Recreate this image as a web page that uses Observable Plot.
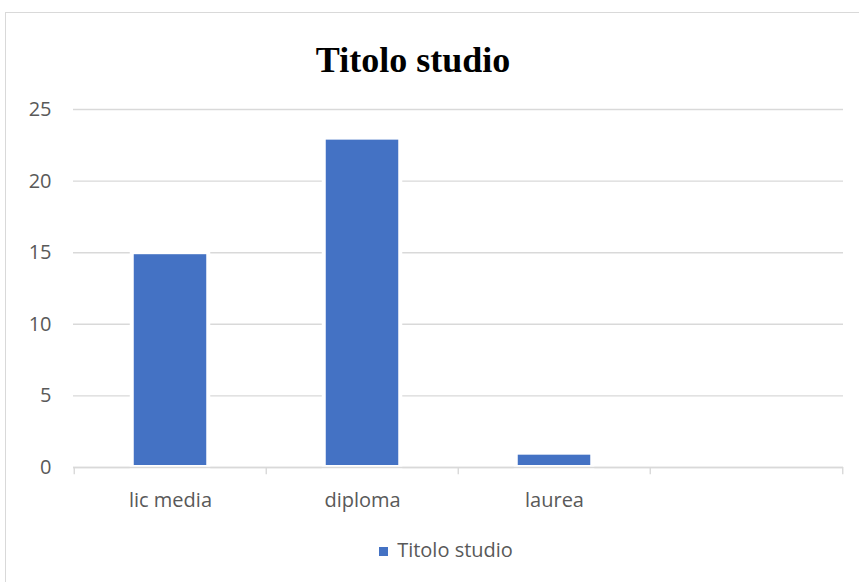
<!DOCTYPE html>
<html>
<head>
<meta charset="utf-8">
<script src="https://cdn.jsdelivr.net/npm/d3@7"></script>
<script src="https://cdn.jsdelivr.net/npm/@observablehq/plot@0.6"></script>
<style>
  html, body { margin: 0; padding: 0; background: #fff; overflow: hidden; }
  body { width: 859px; height: 582px; position: relative; }
  #frame { position: absolute; left: 5px; top: 12px; width: 900px; height: 600px;
    border-left: 1.5px solid #d9d9d9; border-top: 1.5px solid #d9d9d9; }
  #title { position: absolute; left: 0; top: 42px; width: 826px; text-align: center;
    font-family: "Liberation Serif", "Times New Roman", serif; font-weight: bold;
    font-size: 36px; line-height: 36px; color: #000; }
  #chart { position: absolute; left: 0; top: 90px; }
  #legend { position: absolute; left: 0; top: 540px; width: 892px; text-align: center;
    font-family: "Open Sans", sans-serif; font-size: 20px; line-height: 20px; color: #595959; }
  #legend .sw { display: inline-block; width: 9px; height: 9px; background: #4472c4;
    margin-right: 9px; margin-bottom: 1px; }
</style>
</head>
<body>
<div id="frame"></div>
<div id="title">Titolo studio</div>
<div id="chart"></div>
<div id="legend"></div>
<script>
const categories = ["lic media", "diploma", "laurea", ""];
const values = [15, 23, 1, null];
const yTicks = [0, 5, 10, 15, 20, 25];
const seriesName = "Titolo studio";

const data = categories.map((c, i) => ({category: c, value: values[i]}));
const bars = data.filter(d => d.value != null);

const width = 859, mLeft = 73, mRight = 16;
const bandwidth = (width - mLeft - mRight) / categories.length;

const plot = Plot.plot({
  width,
  height: 427,
  marginLeft: mLeft,
  marginRight: mRight,
  marginTop: 19,
  marginBottom: 50,
  style: {fontFamily: "'Open Sans', sans-serif", fontSize: "20px", color: "#595959", background: "transparent", overflow: "visible"},
  x: {domain: categories, padding: 0, axis: null, label: null},
  y: {domain: [0, 25], axis: null, label: null},
  marks: [
    Plot.gridY(yTicks, {stroke: "#d9d9d9", strokeOpacity: 1, strokeWidth: 1.4}),
    Plot.barY(bars, {x: "category", y: "value", fill: "#4472c4", stroke: "white", strokeWidth: 4,
      insetLeft: 57.75, insetRight: 57.75}),
    Plot.ruleY([0], {stroke: "#d9d9d9", strokeWidth: 1.4}),
    Plot.ruleX(categories, {x: d => d, y1: 0, y2: -0.5, dx: -bandwidth / 2, stroke: "#d9d9d9", strokeWidth: 1.4}),
    Plot.ruleX(categories.slice(-1), {x: d => d, y1: 0, y2: -0.5, dx: bandwidth / 2, stroke: "#d9d9d9", strokeWidth: 1.4}),
    Plot.axisY(yTicks, {tickSize: 0, tickPadding: 22, fill: "#595959", fontSize: 20, label: null}),
    Plot.axisX(categories, {tickSize: 0, tickPadding: 24.8, fill: "#595959", fontSize: 20, label: null})
  ]
});
document.getElementById("chart").appendChild(plot);

const lg = document.getElementById("legend");
const sw = document.createElement("span");
sw.className = "sw";
lg.appendChild(sw);
lg.appendChild(document.createTextNode(seriesName));
</script>
</body>
</html>
